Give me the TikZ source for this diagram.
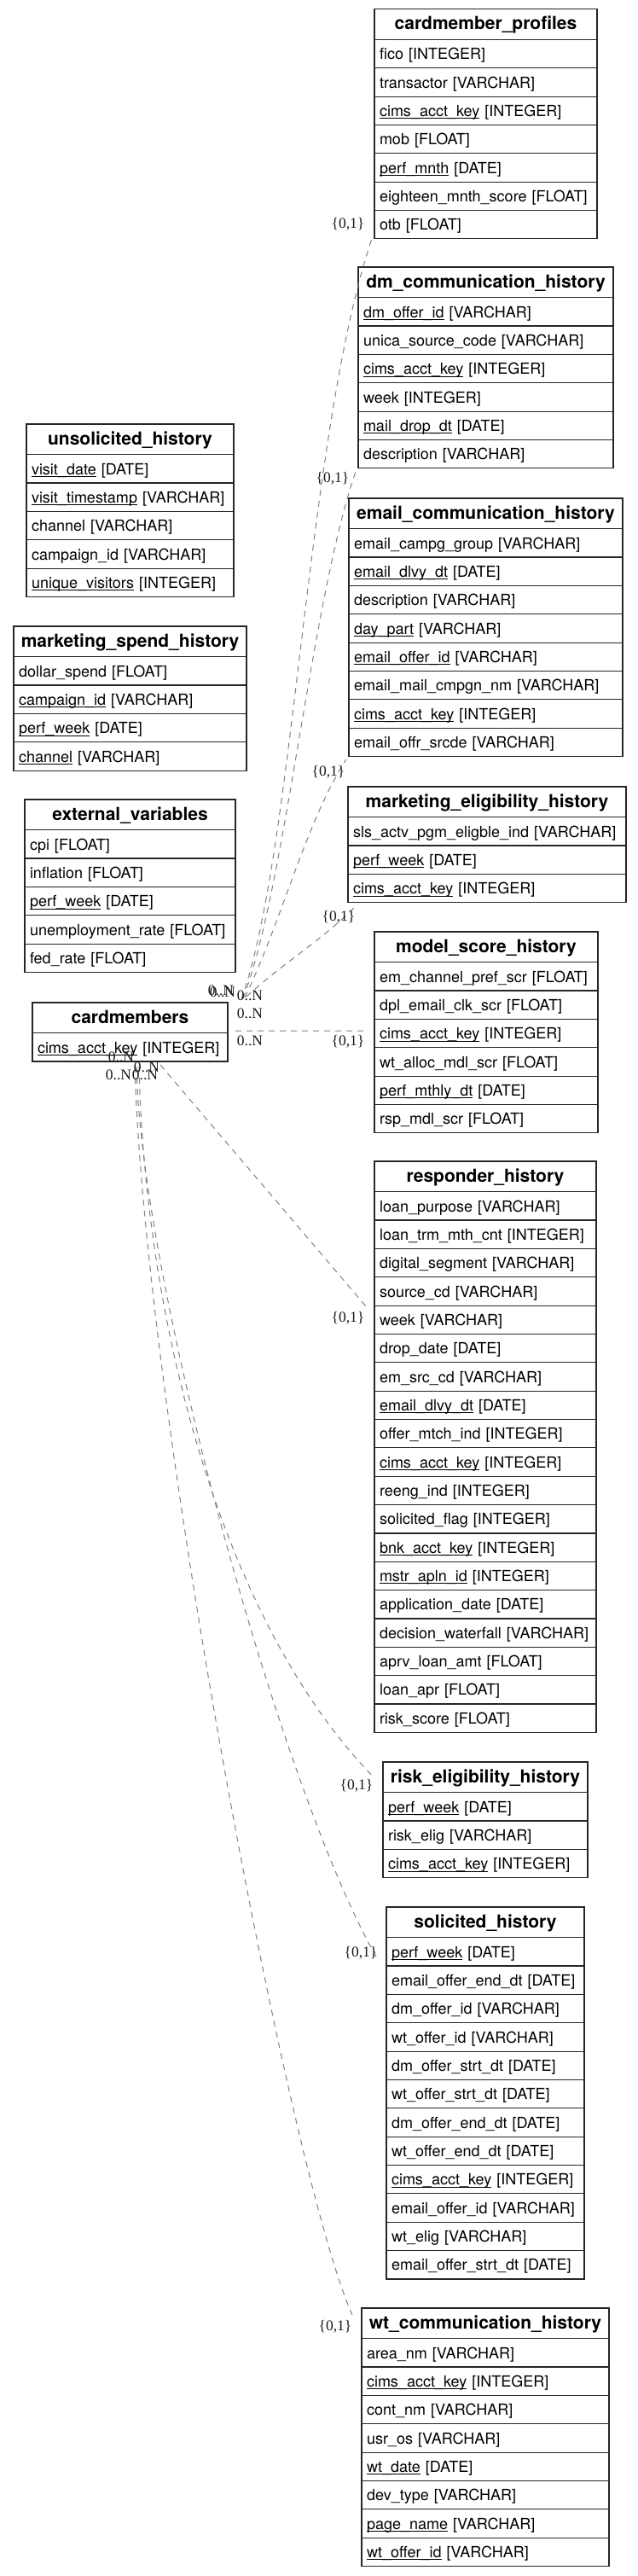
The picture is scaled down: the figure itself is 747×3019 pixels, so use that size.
\documentclass[tikz,border=0pt]{standalone}
\usepackage{fontspec}
\setmainfont{TeX Gyre Heros}
\newfontfamily\lblfont{Liberation Serif}
\usetikzlibrary{calc}
\newsavebox\pkbox
\newcommand\pkey[1]{\sbox\pkbox{#1}\rlap{\rule[-2.8pt]{\wd\pkbox}{0.9pt}}\usebox\pkbox}
\tikzset{
  tblhead/.style={draw=black!85, line width=1.2pt, anchor=north west, outer sep=0pt, inner sep=0pt,
    minimum height=35.7pt, text height=12.3pt, text depth=0pt, font=\fontsize{21}{24}\selectfont\bfseries},
  tblrow/.style={draw=black!85, line width=1.2pt, anchor=north west, outer sep=0pt, inner xsep=6pt, inner ysep=0pt,
    minimum height=33.35pt, text height=13.25pt, text depth=0pt, align=left, font=\fontsize{18}{21}\selectfont},
  rel/.style={draw=black!50, line width=1pt, dash pattern=on 7pt off 6pt},
  card/.style={font=\lblfont\fontsize{17.5}{20}\selectfont, inner sep=0pt, text=black!90},
}
\newcommand\ertable[6]{%
  \node[tblhead, minimum width=#4pt] (#1) at (#2,-#3) {#5};
  \pgfmathsetmacro\ertw{#4-12}%
  \foreach \rowtxt [count=\i] in {#6} {
    \node[tblrow, text width=\ertw pt, minimum width=#4pt] (#1-\i) at ($(#1.south west)+(0,{-(\i-1)*33.35})$) {\mbox{\rowtxt}};
  }
}
\begin{document}
\begin{tikzpicture}[x=1pt,y=1pt]
\fill[white] (0,0) rectangle (747,-3019);
\useasboundingbox (0,0) rectangle (747,-3019);

\ertable{cp}{439}{10.7}{261}{cardmember\_profiles}{fico [INTEGER],transactor [VARCHAR],\pkey{cims\_acct\_key} [INTEGER],mob [FLOAT],\pkey{perf\_mnth} [DATE],eighteen\_mnth\_score [FLOAT],otb [FLOAT]}
\ertable{dm}{420}{313}{299}{dm\_communication\_history}{\pkey{dm\_offer\_id} [VARCHAR],unica\_source\_code [VARCHAR],\pkey{cims\_acct\_key} [INTEGER],week [INTEGER],\pkey{mail\_drop\_dt} [DATE],description [VARCHAR]}
\ertable{em}{409}{584}{321}{email\_communication\_history}{email\_campg\_group [VARCHAR],\pkey{email\_dlvy\_dt} [DATE],description [VARCHAR],\pkey{day\_part} [VARCHAR],\pkey{email\_offer\_id} [VARCHAR],email\_mail\_cmpgn\_nm [VARCHAR],\pkey{cims\_acct\_key} [INTEGER],email\_offr\_srcde [VARCHAR]}
\ertable{us}{31}{497}{243}{unsolicited\_history}{\pkey{visit\_date} [DATE],\pkey{visit\_timestamp} [VARCHAR],channel [VARCHAR],campaign\_id [VARCHAR],\pkey{unique\_visitors} [INTEGER]}
\ertable{ms}{16}{734}{273}{marketing\_spend\_history}{dollar\_spend [FLOAT],\pkey{campaign\_id} [VARCHAR],\pkey{perf\_week} [DATE],\pkey{channel} [VARCHAR]}
\ertable{ev}{29}{937}{247}{external\_variables}{cpi [FLOAT],inflation [FLOAT],\pkey{perf\_week} [DATE],unemployment\_rate [FLOAT],fed\_rate [FLOAT]}
\ertable{me}{408}{922}{326}{marketing\_eligibility\_history}{sls\_actv\_pgm\_eligble\_ind [VARCHAR],\pkey{perf\_week} [DATE],\pkey{cims\_acct\_key} [INTEGER]}
\ertable{msh}{439}{1092}{262}{model\_score\_history}{em\_channel\_pref\_scr [FLOAT],dpl\_email\_clk\_scr [FLOAT],\pkey{cims\_acct\_key} [INTEGER],wt\_alloc\_mdl\_scr [FLOAT],\pkey{perf\_mthly\_dt} [DATE],rsp\_mdl\_scr [FLOAT]}
\ertable{cm}{38}{1175}{229}{cardmembers}{\pkey{cims\_acct\_key} [INTEGER]}
\ertable{rh}{439}{1361}{260}{responder\_history}{loan\_purpose [VARCHAR],loan\_trm\_mth\_cnt [INTEGER],digital\_segment [VARCHAR],source\_cd [VARCHAR],week [VARCHAR],drop\_date [DATE],em\_src\_cd [VARCHAR],\pkey{email\_dlvy\_dt} [DATE],offer\_mtch\_ind [INTEGER],\pkey{cims\_acct\_key} [INTEGER],reeng\_ind [INTEGER],solicited\_flag [INTEGER],\pkey{bnk\_acct\_key} [INTEGER],\pkey{mstr\_apln\_id} [INTEGER],application\_date [DATE],decision\_waterfall [VARCHAR],aprv\_loan\_amt [FLOAT],loan\_apr [FLOAT],risk\_score [FLOAT]}
\ertable{re}{449}{2065}{240}{risk\_eligibility\_history}{\pkey{perf\_week} [DATE],risk\_elig [VARCHAR],\pkey{cims\_acct\_key} [INTEGER]}
\ertable{sh}{453}{2235}{232}{solicited\_history}{\pkey{perf\_week} [DATE],email\_offer\_end\_dt [DATE],dm\_offer\_id [VARCHAR],wt\_offer\_id [VARCHAR],dm\_offer\_strt\_dt [DATE],wt\_offer\_strt\_dt [DATE],dm\_offer\_end\_dt [DATE],wt\_offer\_end\_dt [DATE],\pkey{cims\_acct\_key} [INTEGER],email\_offer\_id [VARCHAR],wt\_elig [VARCHAR],email\_offer\_strt\_dt [DATE]}
\ertable{wt}{424}{2705}{290}{wt\_communication\_history}{area\_nm [VARCHAR],\pkey{cims\_acct\_key} [INTEGER],cont\_nm [VARCHAR],usr\_os [VARCHAR],\pkey{wt\_date} [DATE],dev\_type [VARCHAR],\pkey{page\_name} [VARCHAR],\pkey{wt\_offer\_id} [VARCHAR]}

% connectors
\draw[rel] ([shift={(16,4)}]cm.north east) .. controls (345,-1000) and (360,-500) .. ([shift={(-2,3)}]cp-7.south west);
\draw[rel] ([shift={(18,5)}]cm.north east) .. controls (335,-1040) and (365,-700) .. ([shift={(-2,-1)}]dm-6.south west);
\draw[rel] ([shift={(20,6)}]cm.north east) .. controls (330,-1080) and (360,-960) .. ([shift={(-3,-3.5)}]em-8.south west);
\draw[rel] ([shift={(22,7)}]cm.north east) .. controls (330,-1130) and (380,-1100) .. ([shift={(9,-4)}]me-3.south west);
\draw[rel] ([shift={(9,2.7)}]cm.south east) -- ([shift={(-8,3)}]msh-3.west);
\draw[rel] ([shift={(35.5,-4)}]cm-1.south) -- ([shift={(-9,-2)}]rh-5.north west);
\draw[rel] ([shift={(10.5,-6)}]cm-1.south) .. controls (170,-1550) and (260,-1900) .. ([shift={(-11,0)}]re.west);
\draw[rel] ([shift={(7.5,-6)}]cm-1.south) .. controls (165,-1500) and (330,-2100) .. ([shift={(-11,-7.6)}]sh-1.west);
\draw[rel] ([shift={(5.5,-6)}]cm-1.south) .. controls (170,-1650) and (340,-2550) .. ([shift={(-11,-8)}]wt.north west);

% cardinality labels
\node[card] (n1) at (259,-1161) {0..N};
\node[card] (n2) at (261,-1163) {0..N};
\node[card] (n3) at (293,-1167) {0..N};
\node[card] (n4) at (293,-1188) {0..N};
\node[card] (n5) at (293,-1220) {0..N};
\node[card] (n6) at (142,-1239) {0..N};
\node[card] (n7) at (139,-1260) {0..N};
\node[card] (n8) at (172,-1251) {0..N};
\node[card] (n9) at (170,-1260) {0..N};
\node[card] (o1) at (408,-263) {\{0,1\}};
\node[card] (o2) at (390,-561) {\{0,1\}};
\node[card] (o3) at (385,-905) {\{0,1\}};
\node[card] (o4) at (397,-1075) {\{0,1\}};
\node[card] (o5) at (408,-1221) {\{0,1\}};
\node[card] (o6) at (408,-1545) {\{0,1\}};
\node[card] (o7) at (418,-2093) {\{0,1\}};
\node[card] (o8) at (423,-2289) {\{0,1\}};
\node[card] (o9) at (393,-2727) {\{0,1\}};
\end{tikzpicture}
\end{document}
